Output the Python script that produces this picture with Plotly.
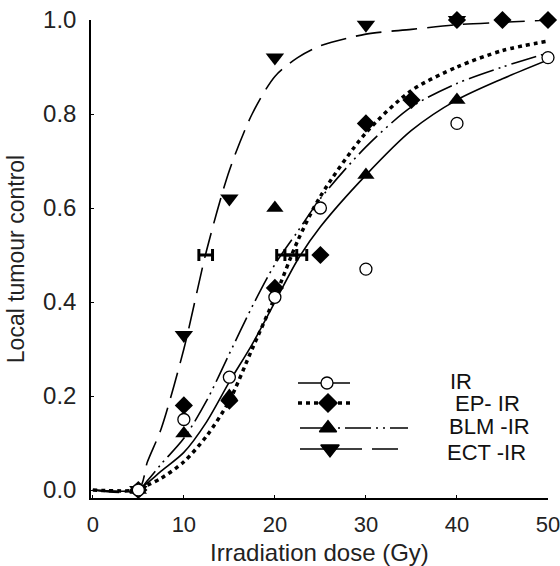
import plotly.graph_objects as go

# ---------------- data ----------------
dose_pts = [5, 10, 15, 20, 25, 30, 40, 50]
ir_pts = [0.0, 0.15, 0.24, 0.41, 0.60, 0.47, 0.78, 0.92]

ep_dose = [5, 10, 15, 20, 25, 30, 35, 40, 45, 50]
ep_pts = [0.0, 0.18, 0.19, 0.43, 0.50, 0.78, 0.83, 1.0, 1.0, 1.0]

blm_dose = [5, 10, 15, 20, 30, 40]
blm_pts = [0.0, 0.12, 0.20, 0.60, 0.67, 0.83]

ect_dose = [5, 10, 15, 20, 30, 40]
ect_pts = [0.0, 0.33, 0.62, 0.92, 0.99, 1.0]

# fitted curves
curve_dose = [0, 5, 6, 7.5, 10, 12.5, 15, 17.5, 20, 22.5, 25, 30, 35, 40, 45, 50]
ir_curve = [0, 0, 0.015, 0.04, 0.08, 0.145, 0.23, 0.31, 0.40, 0.49, 0.56, 0.67, 0.765, 0.83, 0.875, 0.915]
ep_curve = [0, 0, 0.01, 0.025, 0.06, 0.115, 0.19, 0.30, 0.41, 0.53, 0.625, 0.76, 0.85, 0.90, 0.935, 0.955]
blm_curve = [0, 0, 0.02, 0.055, 0.11, 0.19, 0.29, 0.39, 0.48, 0.55, 0.62, 0.73, 0.815, 0.865, 0.90, 0.93]
ect_curve = [0, 0, 0.06, 0.13, 0.30, 0.51, 0.68, 0.80, 0.88, 0.92, 0.945, 0.97, 0.98, 0.99, 0.995, 1.0]

# TCD50 values with horizontal error bars
tcd50_x = [12.4, 21.3, 22.3]
tcd50_y = [0.5, 0.5, 0.5]
tcd50_err = [0.75, 1.1, 1.2]

legend_names = ["IR", "EP- IR", "BLM -IR", "ECT -IR"]

# ---------------- figure ----------------
fig = go.Figure()
K = "black"
DASH_EP = "4px,4px"
DASH_BLM = "26px,5px,2px,5px,2px,5px"
DASH_ECT = "26px,10px"

curve_styles = [
    (ir_curve, "solid", 1.6),
    (ep_curve, DASH_EP, 3.5),
    (blm_curve, DASH_BLM, 1.6),
    (ect_curve, DASH_ECT, 1.6),
]
for ys, dash, w in curve_styles:
    fig.add_trace(go.Scatter(x=curve_dose, y=ys, mode="lines",
                             line=dict(color=K, width=w, dash=dash, shape="spline", smoothing=0.8),
                             showlegend=False, hoverinfo="skip", cliponaxis=False))

fig.add_trace(go.Scatter(x=tcd50_x, y=tcd50_y, mode="markers",
                         marker=dict(size=1, color=K, opacity=0),
                         error_x=dict(type="data", array=tcd50_err, color=K, thickness=3, width=6),
                         showlegend=False, hoverinfo="skip"))

fig.add_trace(go.Scatter(x=ect_dose, y=ect_pts, mode="markers",
                         marker=dict(symbol="triangle-down", size=16, color=K),
                         showlegend=False, cliponaxis=False))
fig.add_trace(go.Scatter(x=blm_dose, y=blm_pts, mode="markers",
                         marker=dict(symbol="triangle-up", size=15, color=K),
                         showlegend=False, cliponaxis=False))
fig.add_trace(go.Scatter(x=ep_dose, y=ep_pts, mode="markers",
                         marker=dict(symbol="diamond", size=14, color=K),
                         showlegend=False, cliponaxis=False))
fig.add_trace(go.Scatter(x=dose_pts, y=ir_pts, mode="markers",
                         marker=dict(symbol="circle", size=12, color="white", line=dict(color=K, width=1.3)),
                         showlegend=False, cliponaxis=False))

# ---------------- manual legend on an overlay axis (pixel-like units) ----------------
leg_rows = [
    (383, 298, 350, 327, "circle", "white", "solid", 1.6, 12),
    (403, 298, 350, 328, "diamond", K, DASH_EP, 3.5, 14),
    (428, 300, 408, 328, "triangle-up", K, DASH_BLM, 1.6, 15),
    (449, 300, 405, 330, "triangle-down", K, DASH_ECT, 1.6, 16),
]
for (yy, x0, x1, mx, sym, fill, dash, w, ms) in leg_rows:
    fig.add_trace(go.Scatter(x=[x0, x1], y=[yy, yy], mode="lines", xaxis="x2", yaxis="y2",
                             line=dict(color=K, width=w, dash=dash), showlegend=False, hoverinfo="skip"))
    fig.add_trace(go.Scatter(x=[mx], y=[yy], mode="markers", xaxis="x2", yaxis="y2",
                             marker=dict(symbol=sym, size=ms, color=fill, line=dict(color=K, width=1.3)),
                             showlegend=False, hoverinfo="skip"))

text_x = [448, 453, 447, 445]
text_y = [381, 403, 426, 452]
for name, tx, ty in zip(legend_names, text_x, text_y):
    fig.add_annotation(x=tx, y=ty, xref="x2", yref="y2", text=name, showarrow=False,
                       xanchor="left", yanchor="middle", font=dict(size=22, color="#111"))

font_family = "Liberation Sans, Arial, sans-serif"
fig.update_layout(
    width=560, height=566,
    margin=dict(l=91, r=12, t=20, b=68),
    plot_bgcolor="white", paper_bgcolor="white",
    font=dict(family=font_family, size=17, color="#222"),
    showlegend=False,
    xaxis=dict(range=[-0.2, 50], tickvals=[0, 10, 20, 30, 40, 50], ticks="inside", ticklen=3,
               tickcolor=K, showline=True, linecolor=K, linewidth=1.5, showgrid=False, zeroline=False,
               automargin=False, ticklabelstandoff=6, ticklabeloverflow="allow",
               title=dict(text="Irradiation dose (Gy)", standoff=10, font=dict(size=24)),
               tickfont=dict(size=22)),
    yaxis=dict(range=[-0.017, 1.0], tickvals=[0, 0.2, 0.4, 0.6, 0.8, 1.0], tickformat=".1f",
               ticks="inside", ticklen=3, tickcolor=K, showline=True, linecolor=K, linewidth=1.5,
               showgrid=False, zeroline=False, automargin=False, ticklabelstandoff=8,
               ticklabeloverflow="allow",
               title=dict(text="Local tumour control", standoff=12, font=dict(size=23)),
               tickfont=dict(size=24)),
    xaxis2=dict(domain=[0, 1], range=[91, 548], overlaying="x", visible=False, fixedrange=True),
    yaxis2=dict(domain=[0, 1], range=[498, 20], overlaying="y", visible=False, fixedrange=True),
)

fig.write_html("out.html", config={"displayModeBar": False},
               post_script="document.body.style.margin='0px';document.body.style.overflow='hidden';")
